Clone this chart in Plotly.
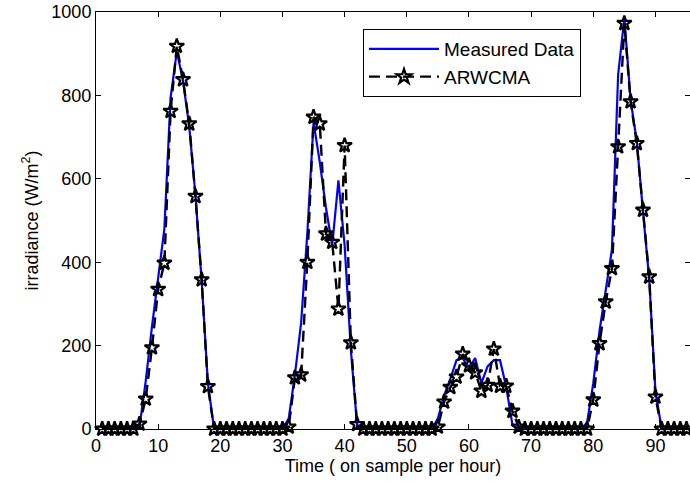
import plotly.graph_objects as go

hours = list(range(1, 97))

measured = [
    0, 0, 0, 0, 0, 0, 5, 115, 245, 362, 480, 795, 905, 835, 725, 560, 355, 110, 0, 0, 0, 0, 0, 0,
    0, 0, 0, 0, 0, 0, 25, 130, 255, 470, 735, 640, 530, 440, 596, 440, 190, 10, 0, 0, 0, 0, 0, 0,
    0, 0, 0, 0, 0, 0, 25, 80, 120, 165, 170, 145, 170, 110, 150, 165, 165, 100, 10, 0, 0, 0, 0, 0,
    0, 0, 0, 0, 0, 0, 15, 110, 235, 335, 430, 850, 985, 790, 690, 520, 360, 90, 0, 0, 0, 0, 0, 0,
]

arwcma = [
    0, 0, 0, 0, 0, 0, 12, 72, 195, 335, 398, 762, 918, 838, 732, 558, 358, 102, 0, 0, 0, 0, 0, 0,
    0, 0, 0, 0, 0, 0, 5, 123, 130, 400, 748, 732, 468, 448, 288, 680, 207, 11, 0, 0, 0, 0, 0, 0,
    0, 0, 0, 0, 0, 0, 5, 65, 100, 125, 180, 152, 135, 91, 105, 192, 103, 103, 43, 5, 0, 0, 0, 0,
    0, 0, 0, 0, 0, 0, 0, 70, 205, 305, 385, 677, 973, 785, 685, 525, 365, 77, 0, 0, 0, 0, 0, 0,
]

x_ticks = [0, 10, 20, 30, 40, 50, 60, 70, 80, 90]
y_ticks = [0, 200, 400, 600, 800, 1000]

FONT = "Liberation Sans, Arial, sans-serif"

fig = go.Figure()
fig.add_trace(go.Scatter(
    x=hours, y=measured, mode="lines", name="Measured Data",
    line=dict(color="#0000ff", width=2.2), cliponaxis=False,
))
fig.add_trace(go.Scatter(
    x=hours, y=arwcma, mode="lines+markers", name="ARWCMA",
    line=dict(color="black", width=2.4, dash="11px,6px"),
    marker=dict(symbol="star-open", size=11, color="black", line=dict(width=2.2, color="black")),
    cliponaxis=False,
))

fig.update_layout(
    width=690, height=489,
    margin=dict(l=96, r=0, t=12, b=60),
    paper_bgcolor="white", plot_bgcolor="white",
    font=dict(family=FONT, size=18, color="black"),
    showlegend=True,
    legend=dict(
        x=0.4495, y=0.959, xanchor="left", yanchor="top",
        bgcolor="white", bordercolor="black", borderwidth=1,
        font=dict(family=FONT, size=19, color="black"),
        itemwidth=70, tracegroupgap=0,
    ),
)
fig.update_xaxes(
    range=[0, 95.56], tickmode="array", tickvals=x_ticks, ticktext=[str(v) for v in x_ticks],
    showgrid=False, zeroline=False, showline=True, linecolor="black", linewidth=1,
    mirror="ticks", ticks="inside", ticklen=5, tickcolor="black",
    title=dict(text="Time ( on sample per hour)", font=dict(family=FONT, size=18), standoff=4),
)
fig.update_yaxes(
    range=[0, 1000], tickmode="array", tickvals=y_ticks, ticktext=[str(v) for v in y_ticks],
    showgrid=False, zeroline=False, showline=True, linecolor="black", linewidth=1,
    mirror="ticks", ticks="inside", ticklen=5, tickcolor="black",
    title=dict(text="irradiance (W/m<sup>2</sup>)", font=dict(family=FONT, size=18), standoff=8),
)

fig.write_html("out.html")
